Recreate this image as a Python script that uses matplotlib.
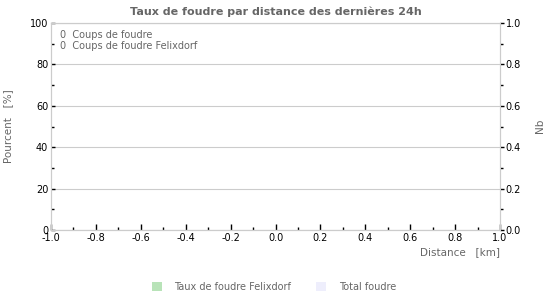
import matplotlib
matplotlib.use('Agg')
import matplotlib.pyplot as plt
from matplotlib.patches import Patch
from matplotlib.ticker import MultipleLocator

# données (aucun impact enregistré)
distances = []
taux_felixdorf = []
total_foudre = []
nb_coups = 0
nb_coups_felixdorf = 0
series_names = ['Taux de foudre Felixdorf', 'Total foudre']
series_colors = ['#b8e3b8', '#eeeefc']

plt.rcParams['font.family'] = 'DejaVu Sans'
grey = '#666666'
spine_c = '#cccccc'

fig = plt.figure(figsize=(5.5, 3.0), dpi=100)
ax = fig.add_axes([51/550, 1-230/300, 449/550, 207/300])
ax2 = ax.twinx()

ax.bar(distances, taux_felixdorf, width=0.1, color=series_colors[0])
ax2.bar(distances, total_foudre, width=0.1, color=series_colors[1])

ax.set_xlim(-1, 1)
ax.set_ylim(0, 100)
ax2.set_ylim(0, 1)
ax.xaxis.set_major_locator(MultipleLocator(0.2))
ax.xaxis.set_minor_locator(MultipleLocator(0.1))
ax.yaxis.set_major_locator(MultipleLocator(20))
ax.yaxis.set_minor_locator(MultipleLocator(10))
ax2.yaxis.set_major_locator(MultipleLocator(0.2))
ax2.yaxis.set_minor_locator(MultipleLocator(0.1))
ax.xaxis.set_major_formatter(lambda v, p: '%.1f' % v)
ax2.yaxis.set_major_formatter(lambda v, p: '%.1f' % v)

ax.grid(True, axis='y', color=spine_c, lw=0.8)
ax.set_axisbelow(True)

for a in (ax, ax2):
    for s in a.spines.values():
        s.set_color(spine_c)
        s.set_linewidth(0.8)

ax.tick_params(axis='x', which='major', direction='in', length=4, width=1, color='black',
               labelsize=7, pad=2)
ax.tick_params(axis='x', which='minor', direction='in', length=2, width=1, color='black')
ax.tick_params(axis='y', which='major', direction='in', length=3, width=1, color='black',
               labelsize=7, pad=2)
ax.tick_params(axis='y', which='minor', direction='in', length=2, width=1, color='black')
ax2.tick_params(axis='y', which='major', direction='out', length=3, width=1, color='black',
                labelsize=7, pad=1)
ax2.tick_params(axis='y', which='minor', direction='out', length=2, width=1, color='black')

ax.set_title('Taux de foudre par distance des dernières 24h', fontsize=8,
             fontweight='bold', color=grey, pad=6)
fig.text(8/550, 1-126/300, 'Pourcent   [%]', rotation=90, ha='center', va='center',
         fontsize=7.5, color=grey)
fig.text(540/550, 1-126/300, 'Nb', rotation=90, ha='center', va='center',
         fontsize=7.5, color=grey)
fig.text(500/550, 1-252/300, 'Distance   [km]', ha='right', va='center',
         fontsize=7.5, color=grey)

fig.text(60/550, 1-35/300, '%d  Coups de foudre' % nb_coups,
         fontsize=7, color=grey, va='center')
fig.text(60/550, 1-46/300, '%d  Coups de foudre Felixdorf' % nb_coups_felixdorf,
         fontsize=7, color=grey, va='center')

handles = [Patch(facecolor=c, edgecolor='none') for c in series_colors]
fig.legend(handles, series_names, loc='center', bbox_to_anchor=(274/550, 1-287/300),
           ncol=2, frameon=False, fontsize=7, labelcolor=grey, handlelength=1.0,
           handleheight=1.0, handletextpad=1.3, columnspacing=2.6)

fig.savefig('out.png', dpi=100)
